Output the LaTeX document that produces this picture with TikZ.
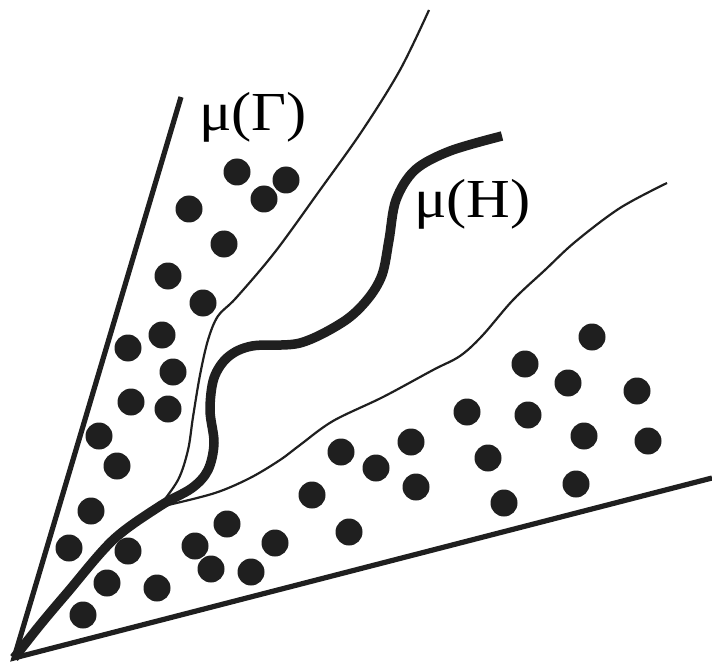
\documentclass[tikz,border=0pt]{standalone}
\usepackage{fontspec}
\setmainfont{Liberation Serif}
\begin{document}
\begin{tikzpicture}[x=1pt,y=-1pt,
  bound/.style={line width=5.2pt, color=black!88, line join=miter},
  thickc/.style={line width=9.5pt, color=black!88, line cap=butt},
  thinc/.style={line width=2.2pt, color=black!88},
  dot/.style={circle, fill=black!88, minimum size=27pt, inner sep=0pt, draw=none},
  lbl/.style={inner sep=0pt, anchor=base west, font=\fontsize{55}{60}\selectfont}]
\useasboundingbox (0,0) rectangle (712,663);
\coordinate (O) at (14,658);
\coordinate (L) at (181,97);
\coordinate (R) at (712,478);
% boundary lines
\draw[bound] (L) -- (O) -- (R);
% thin curve 1
\draw[thinc] plot[smooth, tension=0.55] coordinates {(158,508) (178,480) (188,450) (193,417) (200,375) (208,340) (218,316) (236,298) (275,252) (320,190) (362,131) (400,70) (429,10)};
% thin curve 2
\draw[thinc] plot[smooth, tension=0.55] coordinates {(168,505) (215,493) (250,478) (280,460) (300,445) (333,421) (383,397) (433,370) (460,356) (482,336) (513,300) (545,270) (575,242) (620,208) (667,183)};
% thick curve mu(H)
\draw[thickc] plot[smooth, tension=0.55] coordinates {(O) (40,625) (67,593) (113,540) (160,506) (192,488) (208,470) (214,443) (210,410) (214,378) (228,357) (252,346) (300,343) (343,322) (367,300) (382,275) (389,240) (396,200) (415,170) (450,151) (502,136)};
% dots
\foreach \p [count=\i] in {(237,172),(286,180),(264,199),(189,209),(224,244),(168,276),(203,303),(162,335),(128,348),(173,372),(131,402),(168,409),(99,436),(117,466),(91,511),(69,548),(128,551),(107,583),(83,615),(157,588),(195,546),(227,524),(211,569),(251,572),(275,543),(312,495),(341,452),(349,532),(376,468),(411,442),(416,487),(467,412),(488,458),(504,503),(525,364),(528,415),(568,383),(584,436),(576,484),(592,337),(637,391),(648,441)}
  \node[dot] (d\i) at \p {};
% labels
\node[lbl] (lg) at (199,131) {\scalebox{1.1}[1]{μ(Γ)}};
\node[lbl] (lh) at (414,218) {\scalebox{1.1}[1]{μ(H)}};
\end{tikzpicture}
\end{document}
